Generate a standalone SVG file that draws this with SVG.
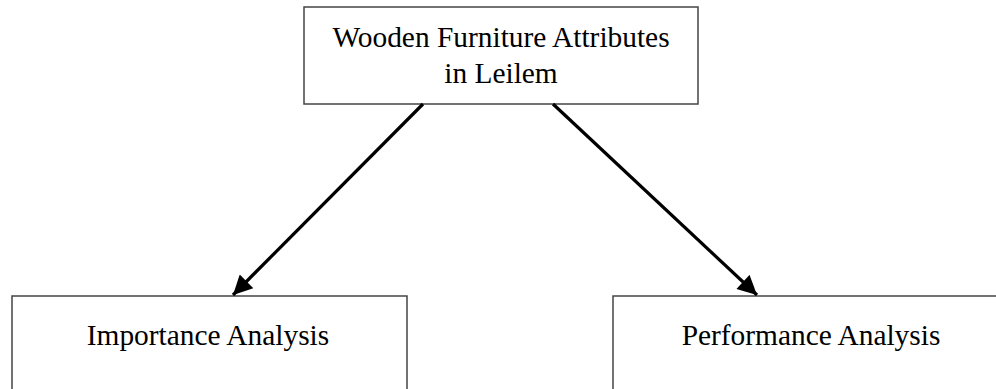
<svg xmlns="http://www.w3.org/2000/svg" width="996" height="389" viewBox="0 0 996 389">
<defs>
<style>
.box{fill:#fff;stroke:#444;stroke-width:1.5}
.t{font-family:"Liberation Serif","Times New Roman",serif;font-size:29.4px;fill:#000;text-anchor:middle}
.c{stroke:#000;stroke-width:3.2;fill:none}
</style>
<marker id="ah" viewBox="0 0 10 10" refX="10" refY="5" markerWidth="6.5" markerHeight="6" markerUnits="strokeWidth" orient="auto">
<path d="M0,0 L10,5 L0,10 z" fill="#000"/>
</marker>
</defs>
<rect width="996" height="389" fill="#fff"/>
<g id="top">
<rect class="box" x="304" y="7" width="394" height="97"/>
<text class="t" x="501" y="47">Wooden Furniture Attributes</text>
<text class="t" x="501" y="83">in Leilem</text>
</g>
<g id="importance">
<rect class="box" x="12" y="296" width="395" height="110"/>
<text class="t" x="208" y="345">Importance Analysis</text>
</g>
<g id="performance">
<rect class="box" x="613" y="296" width="400" height="110"/>
<text class="t" x="811" y="345">Performance Analysis</text>
</g>
<g id="connectors">
<line class="c" x1="423" y1="104" x2="233" y2="295" marker-end="url(#ah)"/>
<line class="c" x1="553" y1="104" x2="757" y2="295" marker-end="url(#ah)"/>
</g>
</svg>
